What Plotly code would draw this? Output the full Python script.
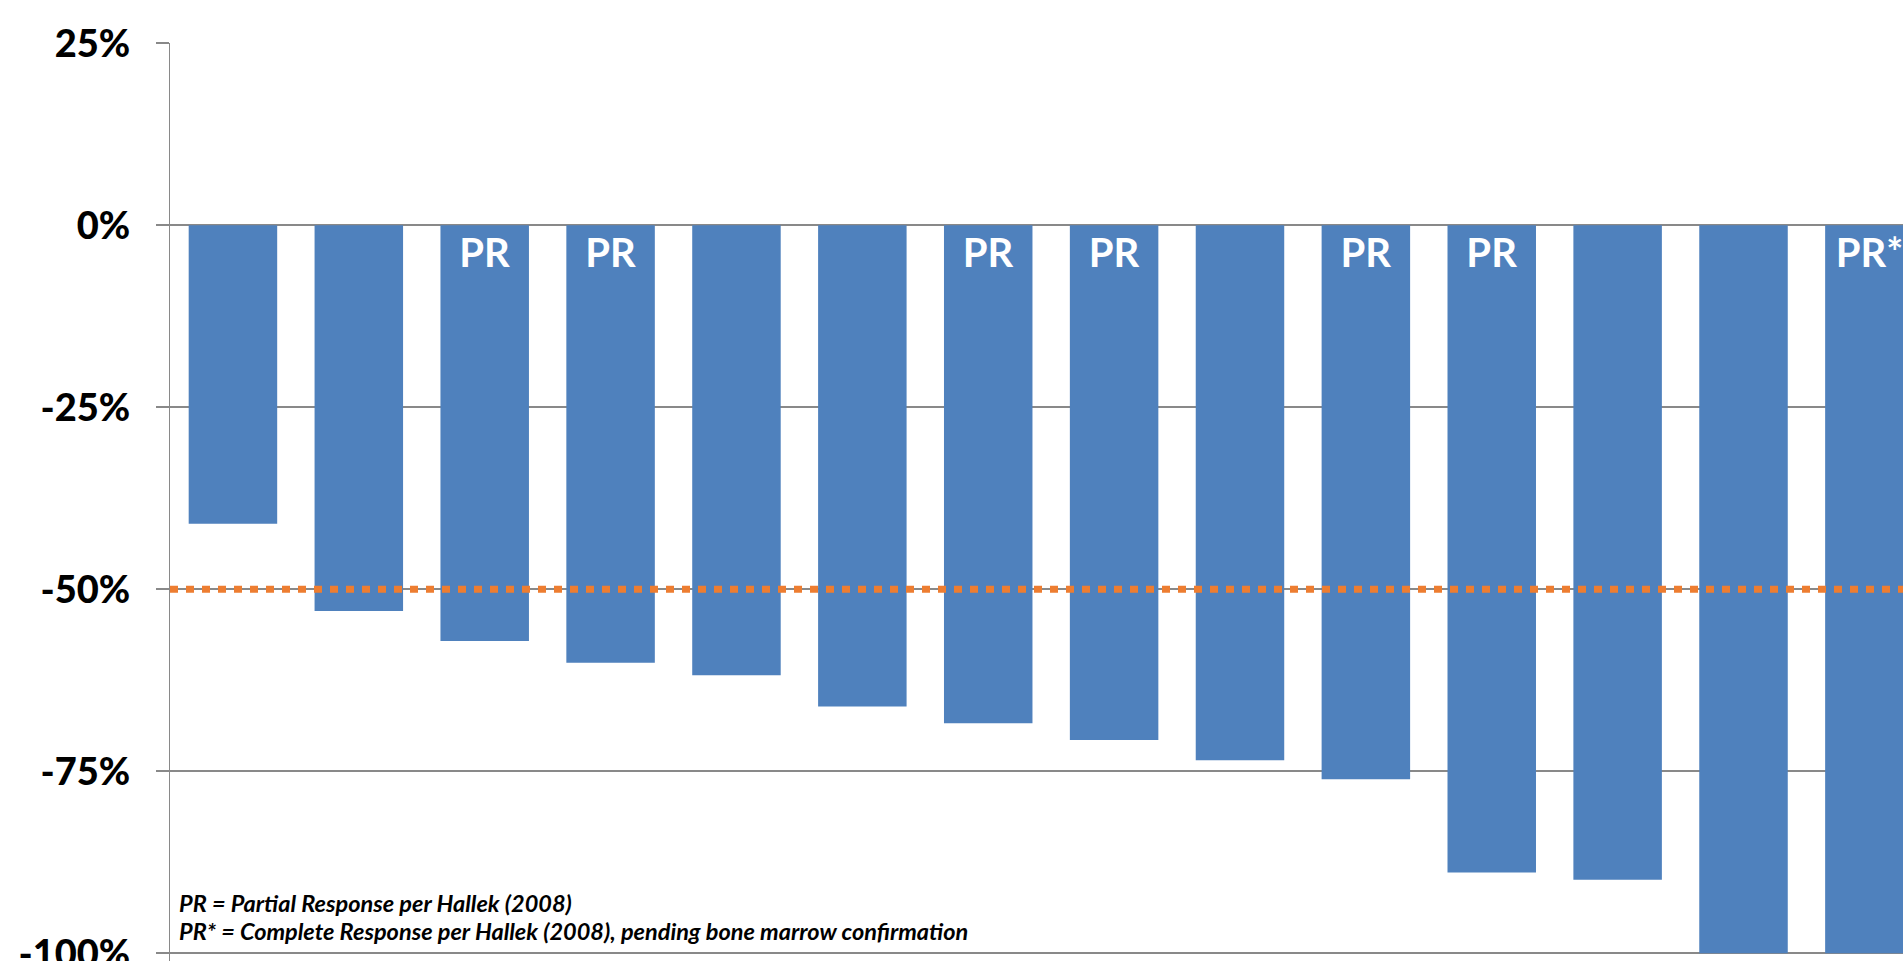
import plotly.graph_objects as go

patients = [str(i) for i in range(1, 15)]
change_pct = [-41.0, -53.0, -57.1, -60.1, -61.8, -66.1, -68.4, -70.7, -73.5, -76.1, -88.9, -89.9, -100.0, -100.0]
response = ["", "", "PR", "PR", "", "", "PR", "PR", "", "PR", "PR", "", "", "PR*"]
threshold = -50
y_ticks = [25, 0, -25, -50, -75, -100]
y_tick_labels = ["25%", "0%", "-25%", "-50%", "-75%", "-100%"]
footnotes = [
    "PR = Partial Response per Hallek (2008)",
    "PR* = Complete Response per Hallek (2008), pending bone marrow confirmation",
]
footnote_y = [-93.05, -96.9]

FONT = "Lato"
BAR = "#4F81BD"
ORANGE = "#ED7D31"
GRID = "#898989"

fig = go.Figure()
fig.add_trace(go.Bar(
    x=patients, y=change_pct, text=response,
    marker=dict(color=BAR, line=dict(width=0)),
    textposition="inside", insidetextanchor="start", textangle=0,
    textfont=dict(family=FONT, size=40, color="white", weight="bold"),
    cliponaxis=True, showlegend=False, hoverinfo="skip",
))
fig.add_trace(go.Scatter(
    x=[-0.5, 13.3], y=[threshold, threshold], mode="lines",
    line=dict(color=ORANGE, width=7, dash="8px,8px"),
    showlegend=False, hoverinfo="skip",
))
fig.update_traces(selector=dict(type="scatter"), xaxis="x2")

for txt, yy in zip(footnotes, footnote_y):
    fig.add_annotation(
        xref="paper", yref="y", x=0.004, y=yy, xanchor="left", yanchor="middle",
        text=txt, showarrow=False,
        font=dict(family=FONT, size=23.5, color="black", weight="bold", style="italic"),
    )

fig.update_layout(
    width=1903, height=961,
    margin=dict(l=170, r=0, t=43, b=0, autoexpand=False),
    paper_bgcolor="white", plot_bgcolor="white",
    bargap=0.297,
    xaxis=dict(type="category", range=[-0.5, 13.267], showticklabels=False,
               showgrid=False, zeroline=False, showline=False, ticks="",
               automargin=False),
    xaxis2=dict(range=[-0.5, 13.267], overlaying="x", visible=False, automargin=False),
    yaxis=dict(range=[-101.07, 25.05], tickvals=y_ticks, ticktext=y_tick_labels,
               automargin=False,
               showgrid=True, gridcolor=GRID, gridwidth=1.5,
               zeroline=True, zerolinecolor=GRID, zerolinewidth=1.5,
               showline=True, linecolor=GRID, linewidth=1.3,
               ticks="outside", ticklen=13, tickcolor=GRID, tickwidth=1.5,
               ticklabelstandoff=18, ticklabeloverflow="allow",
               tickfont=dict(family=FONT, size=38, color="black", weight=900)),
)
fig.write_html("out.html")
